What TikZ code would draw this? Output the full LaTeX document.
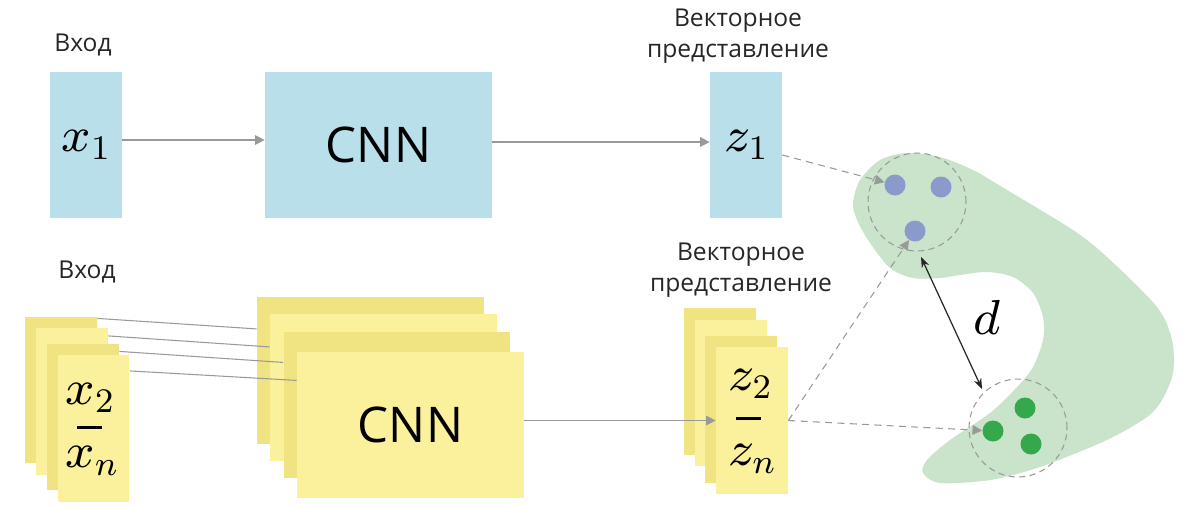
\RequirePackage{fix-cm}
\documentclass[tikz,border=0pt]{standalone}
\usepackage{fontspec}
\setmainfont{Open Sans}
\DeclareFontShape{OML}{cmm}{m}{it}{<->cmmi8}{}
\DeclareFontShape{OT1}{cmr}{m}{n}{<->cmr8}{}
\usetikzlibrary{arrows.meta,calc}
\definecolor{cnnblue}{HTML}{B9E0EA}
\definecolor{ylight}{HTML}{FBF19C}
\definecolor{ydark}{HTML}{F0E382}
\definecolor{blobgreen}{HTML}{C9E4CA}
\definecolor{dotblue}{HTML}{8A9ACB}
\definecolor{dotgreen}{HTML}{34A84A}
\definecolor{arrgray}{HTML}{999999}
\begin{document}
\begin{tikzpicture}[x=0.02cm,y=-0.02cm,>={Triangle[length=5.5pt,width=5.5pt]},line join=round,
	vec/.style={inner sep=0,minimum width=1.44cm,minimum height=2.93cm},
	net/.style={inner sep=0,minimum width=4.54cm,minimum height=2.93cm,font=\fontsize{28}{30}\selectfont},
	lbl/.style={align=center,inner sep=0,font=\fontsize{14}{17.5}\selectfont,text=black!85},
	mth/.style={inner sep=0,font=\fontsize{28}{30}\selectfont},
	flow/.style={->,draw=arrgray,line width=0.7pt},
	hint/.style={->,draw=arrgray,line width=0.6pt,dash pattern=on 4pt off 3pt},
	dot/.style={circle,inner sep=0,minimum size=0.42cm},
	zone/.style={circle,draw=arrgray,line width=0.6pt,dash pattern=on 3.5pt off 2.5pt,minimum size=1.96cm}]
	\useasboundingbox (0,0) rectangle (1200,508);
	%Верхний ряд
	\node[vec,fill=cnnblue,mth] (x1) at (86,145) {$x_1$};
	\node[net,fill=cnnblue] (cnn1) at (378.5,145) {CNN};
	\node[vec,fill=cnnblue,mth] (z1) at (746,145) {$z_1$};
	\node[lbl] (in1) at (83,45) {Вход};
	\node[lbl] (emb1) at (738,36) {Векторное\\представление};
	\draw[flow] ([yshift=0.1cm]x1.east) -- ([yshift=0.1cm]cnn1.west);
	\draw[flow] ([yshift=0.06cm]cnn1.east) -- ([yshift=0.06cm]z1.west);
	%Нижний ряд
	\node[vec,fill=ydark] (xa) at (61,390) {};
	\node[vec,fill=ylight] (xb) at (72,401.5) {};
	\node[vec,fill=ydark] (xc) at (83,417) {};
	\node[vec,fill=ylight] (xd) at (93.5,428.5) {};
	\node[mth] (x2) at (90,398) {$x_2$};
	\node[inner sep=0] (xbar) at (89.5,427) {\rule{14pt}{1.7pt}};
	\node[mth] (xn) at (92,461) {$x_n$};
	\node[net,fill=ydark] (na) at (370.5,370.5) {};
	\node[net,fill=ylight] (nb) at (383.5,387.5) {};
	\node[net,fill=ydark] (nc) at (397,405) {};
	\node[net,fill=ylight] (nd) at (410.5,425) {CNN};
	\node[vec,fill=ydark] (za) at (720,381.5) {};
	\node[vec,fill=ylight] (zb) at (731,393) {};
	\node[vec,fill=ydark] (zc) at (741,409.5) {};
	\node[vec,fill=ylight] (zd) at (752,420.5) {};
	\node[mth] (z2) at (750,384) {$z_2$};
	\node[inner sep=0] (zbar) at (748.5,418) {\rule{14pt}{1.7pt}};
	\node[mth] (zn) at (752,459) {$z_n$};
	\node[lbl] (in2) at (87,272) {Вход};
	\node[lbl] (emb2) at (741,270) {Векторное\\представление};
	\foreach \s/\t/\a/\b in {xa/na/2/32,xb/nb/8/33,xc/nc/8/31,xd/nd/16/29}
		\draw[draw=arrgray,line width=0.6pt] ($(\s.north east)+(0,\a)$) -- ($(\t.north west)+(0,\b)$);
	\draw[flow] (nd.east |- zd.west) -- (zd.west);
	%Пространство представлений
	\fill[blobgreen] plot[smooth cycle] coordinates {(853,203) (860,180) (880,160) (907,153) (940,157)
		(973,170) (1007,190) (1073,230) (1107,257) (1157,307) (1172,340) (1173,373) (1162,400)
		(1147,417) (1107,440) (1040,467) (990,480) (940,483) (923,473) (927,460) (950,440)
		(990,413) (1017,387) (1033,367) (1043,340) (1043,317) (1033,293) (1013,277) (987,272)
		(960,275) (940,278) (913,278) (890,268) (870,243) (857,220)};
	\node[zone] (cu) at (917,202) {};
	\node[zone] (cl) at (1018,428) {};
	\node[dot,fill=dotblue] (b1) at (895,185) {};
	\node[dot,fill=dotblue] (b2) at (941,187) {};
	\node[dot,fill=dotblue] (b3) at (915,231) {};
	\node[dot,fill=dotgreen] (g1) at (993,431) {};
	\node[dot,fill=dotgreen] (g2) at (1025,408) {};
	\node[dot,fill=dotgreen] (g3) at (1031,444) {};
	\draw[hint] ([yshift=-0.2cm]z1.east) -- (b1);
	\draw[hint] (zd.east) -- (b3);
	\draw[hint] (zd.east) -- (g1);
	\path (921,257) coordinate (dt) (982,389) coordinate (db);
	\draw[{Stealth[length=6pt]}-{Stealth[length=6pt]},line width=0.7pt,black!85] (dt) -- (db);
	\node[mth] (dist) at (987,317) {$d$};
\end{tikzpicture}
\end{document}
